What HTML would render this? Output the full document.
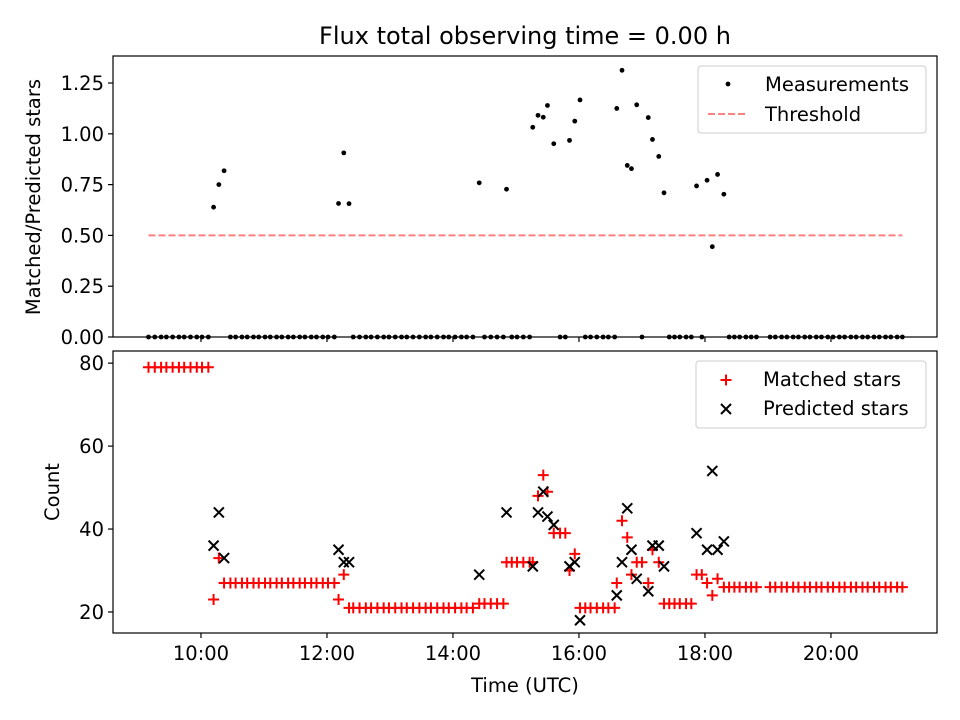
<!DOCTYPE html>
<html><head><meta charset="utf-8"><style>
body{margin:0;background:#fff}
svg{display:block;font-family:"DejaVu Sans","Liberation Sans",sans-serif}
</style></head><body>
<svg id="c" width="960" height="720" viewBox="0 0 960 720">
<rect width="960" height="720" fill="#fff"/>
<text x="525" y="44" text-anchor="middle" font-size="24">Flux total observing time = 0.00 h</text>
<g id="gtop"></g>
<g id="gbot"></g>
</svg>
<script>
// minutes since midnight
const times=[550,556,562,567,573,579,584,590,596,601,607,
612,617,622,
628,633,639,644,650,655,661,666,672,677,683,688,694,699,705,710,716,721,727,
731,736,741,
745,751,757,762,768,774,779,785,791,796,802,808,814,819,825,831,836,842,848,853,859,
865,870,876,882,888,
891,896,901,907,913,
916,921,926,930,936,942,947,951,956,961,
966,971,977,983,988,994,
996,1001,1006,1010,1015,1020,1026,1030,1036,1041,
1046,1051,1056,1062,1067,
1072,1077,1082,1087,1092,1098,
1103,1108,1113,1119,1124,1129,
1142,1147,1153,1158,1164,1169,1175,1180,1186,1191,1197,1202,1208,1213,1219,1224,1230,1235,1241,1246,1252,1257,1263,1268];
const matched=[79,79,79,79,79,79,79,79,79,79,79,
23,33,27,
27,27,27,27,27,27,27,27,27,27,27,27,27,27,27,27,27,27,27,
23,29,21,
21,21,21,21,21,21,21,21,21,21,21,21,21,21,21,21,21,21,21,21,21,
22,22,22,22,22,
32,32,32,32,32,
32,48,53,49,39,39,39,30,34,21,
21,21,21,21,21,21,
27,42,38,29,32,32,27,35,32,22,
22,22,22,22,22,
29,29,27,24,28,26,
26,26,26,26,26,26,
26,26,26,26,26,26,26,26,26,26,26,26,26,26,26,26,26,26,26,26,26,26,26,26];
const predicted=[null,null,null,null,null,null,null,null,null,null,null,
36,44,33,
null,null,null,null,null,null,null,null,null,null,null,null,null,null,null,null,null,null,null,
35,32,32,
null,null,null,null,null,null,null,null,null,null,null,null,null,null,null,null,null,null,null,null,null,
29,null,null,null,null,
44,null,null,null,null,
31,44,49,43,41,null,null,31,32,18,
null,null,null,null,null,null,
24,32,45,35,28,null,25,36,36,31,
null,null,null,null,null,
39,null,35,54,35,37,
null,null,null,null,null,null,
null,null,null,null,null,null,null,null,null,null,null,null,null,null,null,null,null,null,null,null,null,null,null,null];
const threshold=0.5;
const topTicks=[0,0.25,0.5,0.75,1.0,1.25];
const topTickLabels=["0.00","0.25","0.50","0.75","1.00","1.25"];
const botTicks=[20,40,60,80];
const xTicks=[600,720,840,960,1080,1200];
const xTickLabels=["10:00","12:00","14:00","16:00","18:00","20:00"];

const FS=19.5;
const NS="http://www.w3.org/2000/svg";
function mk(tag,attrs,parent){const e=document.createElementNS(NS,tag);for(const k in attrs)e.setAttribute(k,attrs[k]);parent.appendChild(e);return e;}
const L=113,R=937;
const xMin=516.2,xMax=1301;
const X=m=>L+(m-xMin)/(xMax-xMin)*(R-L);
const T0=56,T1=337,B0=351,B1=633;
const Yt=v=>T1-v/1.383*(T1-T0);
const Yb=v=>B1-(v-14.93)/(82.93-14.93)*(B1-B0);
const gTop=document.getElementById('gtop'),gBot=document.getElementById('gbot');

const th=mk('line',{x1:X(times[0]),x2:X(times[times.length-1]),y1:Yt(threshold),y2:Yt(threshold),stroke:'#ff8080','stroke-width':2,'stroke-dasharray':'7,3'},gTop);


times.forEach((tm,i)=>{
  const r=predicted[i]?matched[i]/predicted[i]:0;
  const c=mk('circle',{cx:X(tm),cy:Yt(r),r:2.4,fill:'#000'},gTop);
  
  
});
times.forEach((tm,i)=>{
  const x=X(tm),y=Yb(matched[i]);
  const p=mk('path',{d:`M${x-5.5},${y}H${x+5.5}M${x},${y-5.5}V${y+5.5}`,stroke:'#ff0000','stroke-width':2,fill:'none'},gBot);
  
  
});
times.forEach((tm,i)=>{
  if(predicted[i]==null)return;
  const x=X(tm),y=Yb(predicted[i]);
  const p=mk('path',{d:`M${x-5},${y-5}L${x+5},${y+5}M${x-5},${y+5}L${x+5},${y-5}`,stroke:'#000','stroke-width':2,fill:'none'},gBot);
  
  
});
[[gTop,T0,T1],[gBot,B0,B1]].forEach(([g,a,b])=>{
  const f=mk('rect',{x:L,y:a,width:R-L,height:b-a,fill:'none',stroke:'#000','stroke-width':1.2},g);
  
  
  xTicks.forEach(tk=>{mk('line',{x1:X(tk),x2:X(tk),y1:b,y2:b+5,stroke:'#000','stroke-width':1.2},g);});
});
xTickLabels.forEach((s,i)=>{
  const tx=mk('text',{x:X(xTicks[i]),y:B1+27,'text-anchor':'middle','font-size':FS},gBot);tx.textContent=s;
  
  
});
topTicks.forEach((v,i)=>{
  mk('line',{x1:L-5,x2:L,y1:Yt(v),y2:Yt(v),stroke:'#000','stroke-width':1.2},gTop);
  const tx=mk('text',{x:L-9,y:Yt(v)+7,'text-anchor':'end','font-size':FS},gTop);tx.textContent=topTickLabels[i];
  
  
});
botTicks.forEach(v=>{
  mk('line',{x1:L-5,x2:L,y1:Yb(v),y2:Yb(v),stroke:'#000','stroke-width':1.2},gBot);
  const tx=mk('text',{x:L-9,y:Yb(v)+7,'text-anchor':'end','font-size':FS},gBot);tx.textContent=v;
  
  
});
let tt;
tt=mk('text',{x:0,y:0,transform:'translate(40,197) rotate(-90)','text-anchor':'middle','font-size':FS},gTop);tt.textContent='Matched/Predicted stars';


tt=mk('text',{x:0,y:0,transform:'translate(59,492) rotate(-90)','text-anchor':'middle','font-size':FS},gBot);tt.textContent='Count';


tt=mk('text',{x:525,y:692,'text-anchor':'middle','font-size':FS},gBot);tt.textContent='Time (UTC)';


let lg=mk('g',{},gTop);


mk('rect',{x:698,y:66,width:228,height:67,rx:3,fill:'#fff','fill-opacity':0.8,stroke:'#ccc'},lg);
mk('circle',{cx:728,cy:84,r:2.4,fill:'#000'},lg);
tt=mk('text',{x:765,y:91,'font-size':FS},lg);tt.textContent='Measurements';
mk('line',{x1:708,x2:748,y1:114,y2:114,stroke:'#ff8080','stroke-width':2,'stroke-dasharray':'7,3'},lg);
tt=mk('text',{x:765,y:121,'font-size':FS},lg);tt.textContent='Threshold';
lg=mk('g',{},gBot);


mk('rect',{x:696,y:361,width:230,height:67,rx:3,fill:'#fff','fill-opacity':0.8,stroke:'#ccc'},lg);
mk('path',{d:'M720.5,380H731.5M726,374.5V385.5',stroke:'#f00','stroke-width':2},lg);
tt=mk('text',{x:763,y:386,'font-size':FS},lg);tt.textContent='Matched stars';
mk('path',{d:'M721,404L731,414M721,414L731,404',stroke:'#000','stroke-width':2},lg);
tt=mk('text',{x:763,y:415,'font-size':FS},lg);tt.textContent='Predicted stars';
</script>
</body></html>
